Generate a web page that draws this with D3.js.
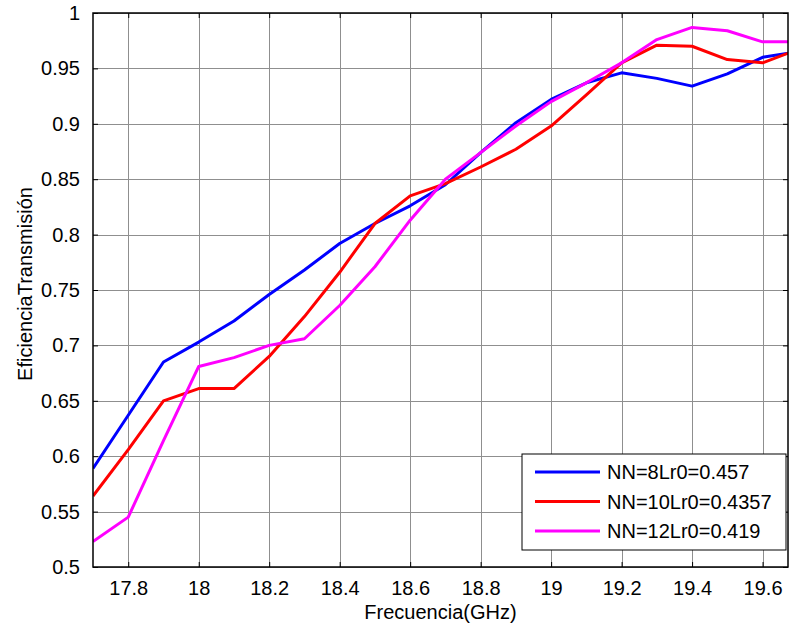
<!DOCTYPE html>
<html>
<head>
<meta charset="utf-8">
<script src="https://cdn.jsdelivr.net/npm/d3@7"></script>
<style>
  body { margin: 0; background: #fff; }
  text { font-family: "Liberation Sans", Arial, sans-serif; fill: #000; }
</style>
</head>
<body>
<script>
// Data
const freq = [17.7, 17.8, 17.9, 18.0, 18.1, 18.2, 18.3, 18.4, 18.5, 18.6, 18.7,
              18.8, 18.9, 19.0, 19.1, 19.2, 19.3, 19.4, 19.5, 19.6, 19.7];
const nn8  = [0.589, 0.637, 0.685, 0.703, 0.722, 0.746, 0.768, 0.792, 0.810, 0.826, 0.845,
              0.874, 0.901, 0.922, 0.937, 0.946, 0.941, 0.934, 0.945, 0.960, 0.965];
const nn10 = [0.564, 0.606, 0.650, 0.661, 0.661, 0.690, 0.726, 0.766, 0.810, 0.835, 0.846,
              0.861, 0.877, 0.898, 0.926, 0.955, 0.971, 0.970, 0.958, 0.955, 0.967];
const nn12 = [0.523, 0.545, 0.614, 0.681, 0.689, 0.700, 0.706, 0.736, 0.771, 0.813, 0.850,
              0.874, 0.898, 0.920, 0.937, 0.955, 0.976, 0.987, 0.984, 0.974, 0.974];
const seriesNames = ["NN=8Lr0=0.457", "NN=10Lr0=0.4357", "NN=12Lr0=0.419"];
const seriesColors = ["#0000ff", "#ff0000", "#ff00ff"];
const xTicks = [17.8, 18, 18.2, 18.4, 18.6, 18.8, 19, 19.2, 19.4, 19.6];
const yTicks = [0.5, 0.55, 0.6, 0.65, 0.7, 0.75, 0.8, 0.85, 0.9, 0.95, 1];

const series = [nn8, nn10, nn12];

// Plot box (figure is cut off on the right, so the x range goes past the box)
const box = { left: 93, top: 13, bottom: 567, right: 788 };

const svg = d3.select("body").append("svg")
    .attr("width", 790)
    .attr("height", 628);

const x = d3.scaleLinear().domain([17.7, 19.7]).range([box.left, box.left + 704.8]);
const y = d3.scaleLinear().domain([0.5, 1]).range([box.bottom, box.top]);

svg.append("defs").append("clipPath").attr("id", "clip")
  .append("rect")
    .attr("x", box.left).attr("y", box.top)
    .attr("width", box.right - box.left).attr("height", box.bottom - box.top);

// Grid
const grid = svg.append("g").attr("stroke", "#8f8f8f").attr("stroke-width", 1);
grid.selectAll(".gx").data(xTicks).enter().append("line")
    .attr("x1", d => Math.round(x(d)) + 0.5).attr("x2", d => Math.round(x(d)) + 0.5)
    .attr("y1", box.top).attr("y2", box.bottom);
grid.selectAll(".gy").data(yTicks).enter().append("line")
    .attr("y1", d => Math.round(y(d)) + 0.5).attr("y2", d => Math.round(y(d)) + 0.5)
    .attr("x1", box.left).attr("x2", box.right);

// Lines
const line = d3.line()
    .x((d, i) => x(freq[i]))
    .y(d => y(d));

svg.append("g").attr("clip-path", "url(#clip)")
  .selectAll("path")
  .data(series)
  .enter().append("path")
    .attr("d", line)
    .attr("fill", "none")
    .attr("stroke", (d, i) => seriesColors[i])
    .attr("stroke-width", 3)
    .attr("stroke-linejoin", "round");

// Axes: bottom/left with labels, top/right ticks only, all ticks inward
svg.append("g")
    .attr("transform", "translate(0," + box.bottom + ")")
    .call(d3.axisBottom(x).tickValues(xTicks).tickSize(-5).tickPadding(14).tickFormat(d3.format("")))
    .call(g => g.select(".domain").remove());

svg.append("g")
    .attr("transform", "translate(0," + box.top + ")")
    .call(d3.axisTop(x).tickValues(xTicks).tickSize(-5).tickFormat(""))
    .call(g => g.select(".domain").remove());

svg.append("g")
    .attr("transform", "translate(" + box.left + ",0)")
    .call(d3.axisLeft(y).tickValues(yTicks).tickSize(-5).tickPadding(13).tickFormat(d3.format("")))
    .call(g => g.select(".domain").remove());

svg.append("g")
    .attr("transform", "translate(" + box.right + ",0)")
    .call(d3.axisRight(y).tickValues(yTicks).tickSize(-5).tickFormat(""))
    .call(g => g.select(".domain").remove());

svg.selectAll(".tick text")
    .style("font-size", "20px")
    .style("font-family", "'Liberation Sans', Arial, sans-serif");

// Box
svg.append("rect")
    .attr("x", box.left).attr("y", box.top)
    .attr("width", box.right - box.left).attr("height", box.bottom - box.top)
    .attr("fill", "none")
    .attr("stroke", "#000")
    .attr("stroke-width", 1.5);

// Axis labels
svg.append("text")
    .attr("x", (box.left + box.right) / 2)
    .attr("y", 619)
    .style("text-anchor", "middle")
    .style("font-size", "20px")
    .text("Frecuencia(GHz)");

svg.append("text")
    .attr("transform", "rotate(-90)")
    .attr("x", -(box.top + box.bottom) / 2 + 6)
    .attr("y", 32)
    .style("text-anchor", "middle")
    .style("font-size", "20px")
    .text("EficienciaTransmisión");

// Legend
const legendBox = svg.append("g").attr("transform", "translate(522,454)");
legendBox.append("rect")
    .attr("width", 264).attr("height", 96)
    .attr("fill", "#fff")
    .attr("stroke", "#000")
    .attr("stroke-width", 1);

const legend = legendBox.selectAll(".legend")
    .data(seriesNames)
    .enter().append("g")
    .attr("class", "legend")
    .attr("transform", (d, i) => "translate(0," + (18 + i * 29.5) + ")");

legend.append("line")
    .attr("x1", 13).attr("x2", 78)
    .attr("stroke", (d, i) => seriesColors[i])
    .attr("stroke-width", 3);

legend.append("text")
    .attr("x", 85)
    .attr("y", 7)
    .style("font-size", "20px")
    .text(d => d);
</script>
</body>
</html>
